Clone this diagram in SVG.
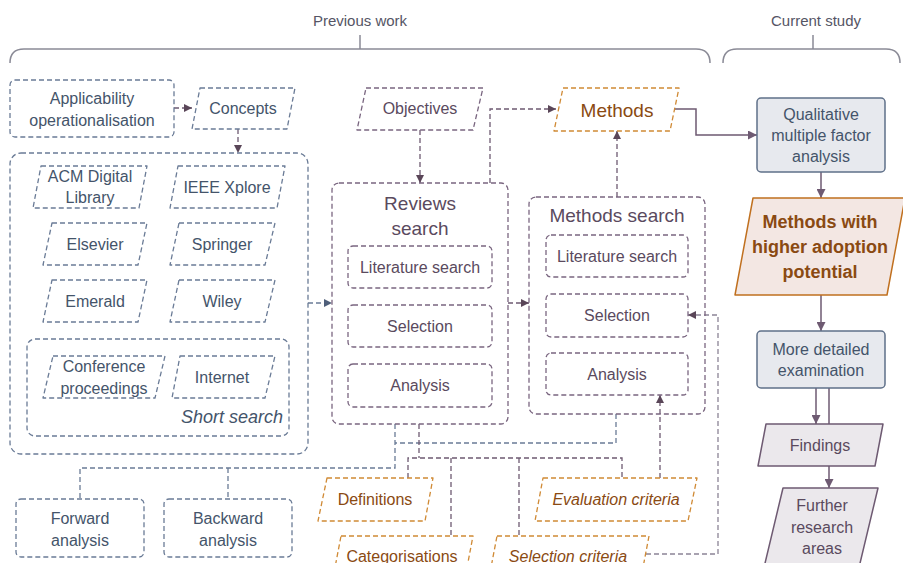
<svg xmlns="http://www.w3.org/2000/svg" width="903" height="563" viewBox="0 0 903 563">
<defs>
<style>
text{font-family:"Liberation Sans",Arial,sans-serif;text-anchor:middle;dominant-baseline:central}
.t{font-size:16px;fill:#44546a}
.tm{font-size:16px;fill:#5a4a5e}
.to{font-size:16px;fill:#8a4a12}
.it{font-style:italic}
.hdr{font-size:15px;fill:#555565}
.db{fill:none;stroke:#6a7b96;stroke-width:1.3;stroke-dasharray:5 3}
.dm{fill:none;stroke:#7a6680;stroke-width:1.3;stroke-dasharray:5 3}
.do{fill:none;stroke:#d08a35;stroke-width:1.3;stroke-dasharray:5 3}
.brace{fill:none;stroke:#8a8a96;stroke-width:1.5}
.cb{fill:none;stroke:#6a7b96;stroke-width:1.3;stroke-dasharray:5 3}
.cm{fill:none;stroke:#6e5a72;stroke-width:1.3;stroke-dasharray:5 3}
.cg{fill:none;stroke:#8c8496;stroke-width:1.3;stroke-dasharray:5 3}
.cs{fill:none;stroke:#6e5a72;stroke-width:1.5}
</style>
<marker id="am" viewBox="0 0 10 10" refX="10" refY="5" markerWidth="8" markerHeight="8" markerUnits="userSpaceOnUse" orient="auto"><path d="M0,0L10,5L0,10z" fill="#5a4658"/></marker>
<marker id="ab" viewBox="0 0 10 10" refX="10" refY="5" markerWidth="8" markerHeight="8" markerUnits="userSpaceOnUse" orient="auto"><path d="M0,0L10,5L0,10z" fill="#4f5f7a"/></marker>
<marker id="as" viewBox="0 0 10 10" refX="10" refY="5" markerWidth="9" markerHeight="9" markerUnits="userSpaceOnUse" orient="auto"><path d="M0,0L10,5L0,10z" fill="#6e5a72"/></marker>
</defs>
<rect width="903" height="563" fill="#ffffff"/>

<g id="headers">
<text class="hdr" x="360" y="20">Previous work</text>
<path class="brace" d="M10,63 Q10,49 24,49 H696 Q710,49 710,63 M360,49 V35"/>
<text class="hdr" x="816" y="20">Current study</text>
<path class="brace" d="M723,63 Q723,49 737,49 H886 Q900,49 900,63 M813,49 V35"/>
</g>

<g id="connectors">
<path class="cm" d="M174,108 H192" marker-end="url(#am)"/>
<path class="cm" d="M238,129 V153" marker-end="url(#am)"/>
<path class="cb" d="M308,303 H332" marker-end="url(#ab)"/>
<path class="cm" d="M420,130 V183" marker-end="url(#am)"/>
<path class="cm" d="M490,183 V109 H556" marker-end="url(#am)"/>
<path class="cm" d="M617,197 V131" marker-end="url(#am)"/>
<path class="cm" d="M508,303 H529" marker-end="url(#am)"/>
<path class="cs" d="M674,109 H696 V135 H757" marker-end="url(#as)"/>
<path class="cs" d="M821,172 V198" marker-end="url(#as)"/>
<path class="cs" d="M821,295 V331" marker-end="url(#as)"/>
<path class="cs" d="M816,388 V424" marker-end="url(#as)"/>
<path class="cs" d="M829,388 V424"/>
<path class="cs" d="M829,466 V488" marker-end="url(#as)"/>
<path class="cb" d="M395,424 V468 H80 V499 M228,468 V499 M616,414 V443 H395"/>
<path class="cm" d="M419,424 V458 M408,478 V458 H622 V478 M451,458 V536 M519,458 V536"/>
<path class="cm" d="M660,478 V395" marker-end="url(#am)"/>
<path class="cg" d="M646,554 H718 V315 H688" marker-end="url(#am)"/>
</g>

<g id="applicability">
<rect class="db" x="10" y="80" width="164" height="57" rx="5"/>
<text class="t" x="92" y="98">Applicability</text>
<text class="t" x="92" y="120">operationalisation</text>
</g>
<g id="concepts">
<path class="db" d="M200,88 H295 L287,129 H192 Z" stroke-linejoin="round"/>
<text class="t" x="243" y="108">Concepts</text>
</g>
<g id="databases">
<rect class="db" x="10" y="153" width="298" height="301" rx="11"/>
</g>
<g id="acm">
<path class="db" d="M41,166 H147 L139,208 H33 Z" stroke-linejoin="round"/>
<text class="t" x="90" y="176">ACM Digital</text>
<text class="t" x="90" y="197">Library</text>
</g>
<g id="ieee">
<path class="db" d="M178,166 H285 L277,208 H170 Z" stroke-linejoin="round"/>
<text class="t" x="227" y="187">IEEE Xplore</text>
</g>
<g id="elsevier">
<path class="db" d="M52,223 H147 L138,265 H43 Z" stroke-linejoin="round"/>
<text class="t" x="95" y="244">Elsevier</text>
</g>
<g id="springer">
<path class="db" d="M179,223 H275 L265,265 H170 Z" stroke-linejoin="round"/>
<text class="t" x="222" y="244">Springer</text>
</g>
<g id="emerald">
<path class="db" d="M52,280 H147 L138,322 H43 Z" stroke-linejoin="round"/>
<text class="t" x="95" y="301">Emerald</text>
</g>
<g id="wiley">
<path class="db" d="M179,280 H275 L265,322 H170 Z" stroke-linejoin="round"/>
<text class="t" x="222" y="301">Wiley</text>
</g>
<g id="shortsearch">
<rect class="db" x="27" y="339" width="262" height="97" rx="8"/>
<text class="t it" x="283" y="417" style="text-anchor:end;font-size:18px">Short search</text>
</g>
<g id="conference">
<path class="db" d="M53,356 H165 L155,398 H43 Z" stroke-linejoin="round"/>
<text class="t" x="104" y="366">Conference</text>
<text class="t" x="104" y="388">proceedings</text>
</g>
<g id="internet">
<path class="db" d="M180,356 H275 L265,398 H172 Z" stroke-linejoin="round"/>
<text class="t" x="222" y="377">Internet</text>
</g>

<g id="objectives">
<path class="dm" d="M366,88 H483 L473,130 H357 Z" stroke-linejoin="round"/>
<text class="tm" x="420" y="108">Objectives</text>
</g>
<g id="reviews">
<rect class="dm" x="332" y="183" width="176" height="241" rx="7"/>
<text class="tm" x="420" y="203" style="font-size:19px">Reviews</text>
<text class="tm" x="420" y="228" style="font-size:19px">search</text>
</g>
<g id="rev-lit">
<rect class="dm" x="348" y="246" width="144" height="42" rx="5"/>
<text class="tm" x="420" y="267">Literature search</text>
</g>
<g id="rev-sel">
<rect class="dm" x="348" y="305" width="144" height="42" rx="5"/>
<text class="tm" x="420" y="326">Selection</text>
</g>
<g id="rev-ana">
<rect class="dm" x="348" y="364" width="144" height="43" rx="5"/>
<text class="tm" x="420" y="385">Analysis</text>
</g>

<g id="methods">
<path class="do" d="M563,88 H679 L670,131 H554 Z" stroke-linejoin="round"/>
<text class="to" x="617" y="110" style="font-size:19px">Methods</text>
</g>
<g id="methodssearch">
<rect class="dm" x="529" y="197" width="176" height="217" rx="7"/>
<text class="tm" x="617" y="215" style="font-size:19px">Methods search</text>
</g>
<g id="ms-lit">
<rect class="dm" x="546" y="235" width="142" height="42" rx="5"/>
<text class="tm" x="617" y="256">Literature search</text>
</g>
<g id="ms-sel">
<rect class="dm" x="546" y="294" width="142" height="43" rx="5"/>
<text class="tm" x="617" y="315">Selection</text>
</g>
<g id="ms-ana">
<rect class="dm" x="546" y="353" width="142" height="42" rx="5"/>
<text class="tm" x="617" y="374">Analysis</text>
</g>

<g id="forward">
<rect class="db" x="16" y="499" width="128" height="58" rx="5"/>
<text class="t" x="80" y="518">Forward</text>
<text class="t" x="80" y="540">analysis</text>
</g>
<g id="backward">
<rect class="db" x="164" y="499" width="128" height="58" rx="5"/>
<text class="t" x="228" y="518">Backward</text>
<text class="t" x="228" y="540">analysis</text>
</g>
<g id="definitions">
<path class="do" d="M327,478 H433 L425,521 H318 Z" stroke-linejoin="round"/>
<text class="to" x="375" y="499">Definitions</text>
</g>
<g id="evaluation">
<path class="do" d="M543,478 H697 L688,521 H535 Z" stroke-linejoin="round"/>
<text class="to it" x="616" y="499">Evaluation criteria</text>
</g>
<g id="categorisations">
<path class="do" d="M341,536 H473 L465,578 H333 Z" stroke-linejoin="round"/>
<text class="to" x="402" y="556">Categorisations</text>
</g>
<g id="selectioncriteria">
<path class="do" d="M497,536 H649 L641,578 H489 Z" stroke-linejoin="round"/>
<text class="to it" x="568" y="556">Selection criteria</text>
</g>

<g id="qualitative">
<rect x="757" y="98" width="128" height="74" rx="4" fill="#e7e9ee" stroke="#5f7089" stroke-width="1.5"/>
<text class="t" x="821" y="114">Qualitative</text>
<text class="t" x="821" y="135">multiple factor</text>
<text class="t" x="821" y="156">analysis</text>
</g>
<g id="higheradoption">
<path d="M753,198 H905 L887,295 H735 Z" fill="#f3e7e3" stroke="#c0701f" stroke-width="1.5" stroke-linejoin="round"/>
<text x="820" y="222" style="font-size:18px;font-weight:bold;fill:#8a4a12">Methods with</text>
<text x="820" y="247" style="font-size:18px;font-weight:bold;fill:#8a4a12">higher adoption</text>
<text x="820" y="272" style="font-size:18px;font-weight:bold;fill:#8a4a12">potential</text>
</g>
<g id="detailed">
<rect x="757" y="331" width="128" height="57" rx="4" fill="#e7e9ee" stroke="#5f7089" stroke-width="1.5"/>
<text class="t" x="821" y="349">More detailed</text>
<text class="t" x="821" y="370">examination</text>
</g>
<g id="findings">
<path d="M766,424 H883 L875,466 H758 Z" fill="#ebe8ec" stroke="#6e5a72" stroke-width="1.5" stroke-linejoin="round"/>
<text class="tm" x="820" y="445">Findings</text>
</g>
<g id="further">
<path d="M783,488 H878 L856,580 H761 Z" fill="#ebe8ec" stroke="#6e5a72" stroke-width="1.5" stroke-linejoin="round"/>
<text class="tm" x="822" y="505">Further</text>
<text class="tm" x="822" y="527">research</text>
<text class="tm" x="822" y="548">areas</text>
</g>
</svg>
